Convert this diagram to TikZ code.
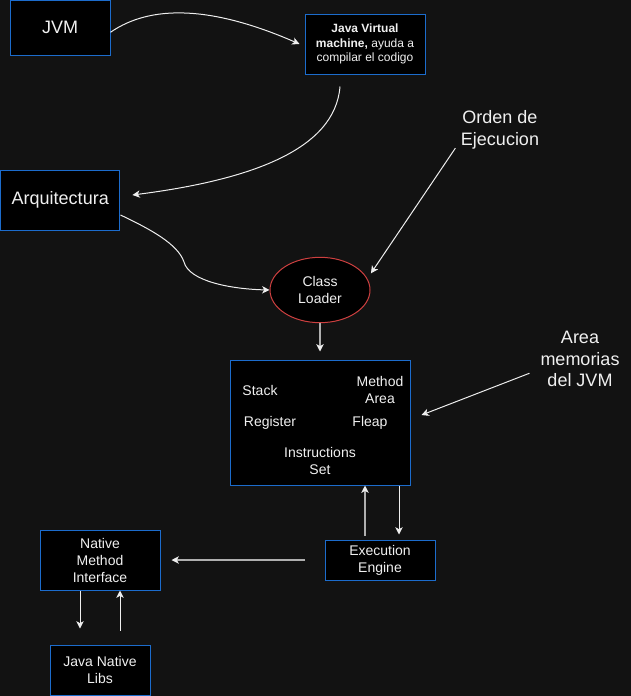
\documentclass[tikz,border=0pt]{standalone}
\usepackage{fontspec}
\setmainfont{Liberation Sans}
\usetikzlibrary{arrows.meta,shapes.geometric}
\definecolor{bg}{RGB}{18,18,18}
\definecolor{boxblue}{RGB}{28,108,204}
\definecolor{ellred}{RGB}{205,64,64}
\definecolor{txt}{RGB}{240,240,240}
\definecolor{lnw}{RGB}{238,238,238}
\definecolor{lng}{RGB}{175,175,175}
\begin{document}
\begin{tikzpicture}[x=0.75pt,y=-0.75pt,
  box/.style={draw=boxblue,fill=black,line width=0.75pt,inner sep=0pt,text=txt,align=center},
  big/.style={font=\fontsize{13.5}{16.2}\selectfont},
  mid/.style={font=\fontsize{10.5}{12.75}\selectfont},
  small/.style={font=\fontsize{9}{10.9}\selectfont},
  lbl/.style={text=txt,inner sep=0pt,align=center},
  conn/.style={draw=lnw,line width=0.75pt,-{Stealth[length=5.5pt,width=5.5pt,inset=1.5pt,color=lnw]}},
  conng/.style={conn,draw=lng,line width=1.3pt}]
\fill[bg] (0,0) rectangle (631,696);
\useasboundingbox (0,0) rectangle (631,696);

% boxes
\node[box,big,minimum width=75pt,minimum height=40.9pt] (jvm) at (60,27.75) {JVM};
\node[box,small,minimum width=90pt,minimum height=45pt] (desc) at (365,44)
  {\textbf{Java Virtual}\\\textbf{machine,} ayuda a\\compilar el codigo};
\node[box,big,minimum width=89.6pt,minimum height=45pt] (arq) at (60.25,200) {Arquitectura};
\node[draw=ellred,fill=black,line width=0.75pt,ellipse,minimum width=75pt,minimum height=49pt,
  inner sep=0pt,text=txt,align=center,mid] (cl) at (320,290) {Class\\Loader};
\node[box,minimum width=135pt,minimum height=93.75pt] (mem) at (320,422.5) {};
\node[box,mid,minimum width=82.5pt,minimum height=30pt] (exec) at (380,560) {Execution\\Engine};
\node[box,mid,minimum width=90pt,minimum height=45pt] (nmi) at (100,560) {Native\\Method\\Interface};
\node[box,mid,minimum width=75pt,minimum height=37.5pt] (jnl) at (100,670) {Java Native\\Libs};

% texts inside memory box
\node[lbl,mid] (stack) at (260,390) {Stack};
\node[lbl,mid] (marea) at (380,390) {Method\\Area};
\node[lbl,mid] (reg) at (270,423) {Register};
\node[lbl,mid] (fleap) at (370,423) {Fleap};
\node[lbl,mid] (iset) at (320,461) {Instructions\\Set};

% free labels
\node[lbl,big] (orden) at (500,130) {Orden de\\Ejecucion};
\node[lbl,big] (area) at (580,359) {Area\\memorias\\del JVM};

% connectors
\draw[conn] ([yshift=-3.4pt]jvm.east) .. controls (150,5) and (210,5) .. ([xshift=-3.75pt]desc.west);
\draw[conn] ([xshift=-18.75pt,yshift=-9pt]desc.south) .. controls (335,150) and (250,180) .. ([xshift=9pt,yshift=3.75pt]arq.east);
\draw[conn] ([yshift=-11.25pt]arq.east) .. controls (150,229) and (178,244) .. (184,262)
  .. controls (189,281) and (230,289) .. (cl.west);
\draw[conn] ([xshift=-4pt,yshift=1pt]orden.south west) -- ([xshift=38.2pt,yshift=12.5pt]cl.center);
\draw[conng] (cl.south) -- ([yshift=6pt]mem.north);
\draw[conn] ([xshift=-8.1pt,yshift=-10.7pt]area.west) -- ([xshift=8.25pt,yshift=5.6pt]mem.east);
\draw[conng] ([xshift=-11.25pt,yshift=3pt]exec.north) -- ([xshift=-11.25pt]exec.north |- mem.south);
\draw[conn] ([xshift=14.25pt]exec.north |- mem.south) -- ([xshift=14.25pt,yshift=3.75pt]exec.north);
\draw[conng] ([xshift=-14.5pt]exec.west) -- ([xshift=8.25pt]nmi.east);
\draw[conn] ([xshift=-15pt]nmi.south) -- ([xshift=-15pt,yshift=12pt]jnl.north);
\draw[conn] ([xshift=15pt,yshift=10.5pt]jnl.north) -- ([xshift=15pt]nmi.south);
\end{tikzpicture}
\end{document}
